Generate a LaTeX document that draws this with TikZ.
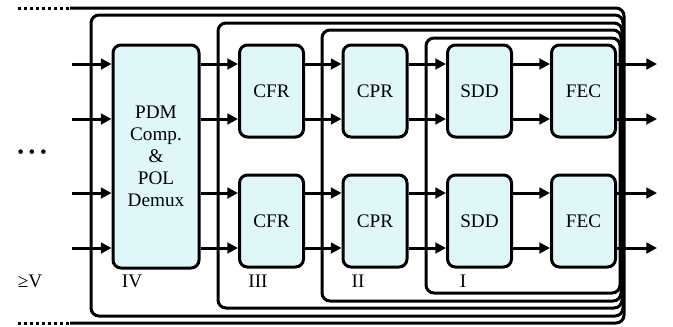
\documentclass[tikz,border=0pt]{standalone}
\usepackage{fontspec}
\setmainfont{Liberation Serif}
\usetikzlibrary{arrows.meta}
\definecolor{stagefill}{RGB}{223,247,249}

\begin{document}
\begin{tikzpicture}[x=0.75pt, y=-0.75pt, >={Triangle[length=8pt,width=8pt]},
    every node/.style={font=\fontsize{14.4}{16.5}\selectfont},
    blk/.style={draw, line width=2.25pt, fill=stagefill, rounded corners=6pt,
      inner sep=0pt, align=center, minimum width=48pt, minimum height=69pt},
    sig/.style={->, line width=2.25pt},
    frame/.style={line width=2.25pt, rounded corners=6pt},
    dots/.style={line width=2.25pt, dash pattern=on 2.25pt off 2.25pt}]
    \useasboundingbox (0,0) rectangle (673,326);

    % row heights of the four signal lanes
    \foreach \y [count=\i] in {64,119,193,248} {
        \coordinate (in\i) at (72,\y);
        \coordinate (out\i) at (657,\y);
    }

    % nested stage frames, level V open to the left
    \draw[dots] (18,8) -- (70,8);
    \draw[dots] (18,323) -- (70,323);
    \draw[frame] (70,8) -- (624,8) -- (624,323) -- (70,323);
    \draw[frame] (91,15) rectangle (623,316);
    \draw[frame] (218,23) rectangle (622,308);
    \draw[frame] (322,30) rectangle (621,301);
    \draw[frame] (426,38) rectangle (620,293);

    % processing blocks
    \node[blk, minimum width=64.5pt, minimum height=167.25pt] (pdm) at (156,156.5)
        {PDM\\Comp.\\\&\\POL\\Demux};
    \node[blk] (cfrA) at (271.5,91) {CFR};
    \node[blk] (cfrB) at (271.5,221) {CFR};
    \node[blk] (cprA) at (375,91) {CPR};
    \node[blk] (cprB) at (375,221) {CPR};
    \node[blk] (sddA) at (479.5,91) {SDD};
    \node[blk] (sddB) at (479.5,221) {SDD};
    \node[blk] (fecA) at (583.5,91) {FEC};
    \node[blk] (fecB) at (583.5,221) {FEC};

    % inputs and outputs
    \foreach \i/\b in {1/A,2/A,3/B,4/B} {
        \draw[sig] (in\i) -- (pdm.west |- in\i);
        \draw[sig] (fec\b.east |- out\i) -- (out\i);
        \draw[sig] (pdm.east |- in\i) -- (cfr\b.west |- in\i);
        \draw[sig] (cfr\b.east |- in\i) -- (cpr\b.west |- in\i);
        \draw[sig] (cpr\b.east |- in\i) -- (sdd\b.west |- in\i);
        \draw[sig] (sdd\b.east |- in\i) -- (fec\b.west |- in\i);
    }

    % stage labels
    \node (more) at (32,154) {\textbullet\hspace{3.5pt}\textbullet\hspace{3.5pt}\textbullet};
    \node (lv) at (30,281) {≥V};
    \node (liv) at (132,281) {IV};
    \node (liii) at (258,281) {III};
    \node (lii) at (358,281) {II};
    \node (li) at (463,281) {I};
\end{tikzpicture}
\end{document}
